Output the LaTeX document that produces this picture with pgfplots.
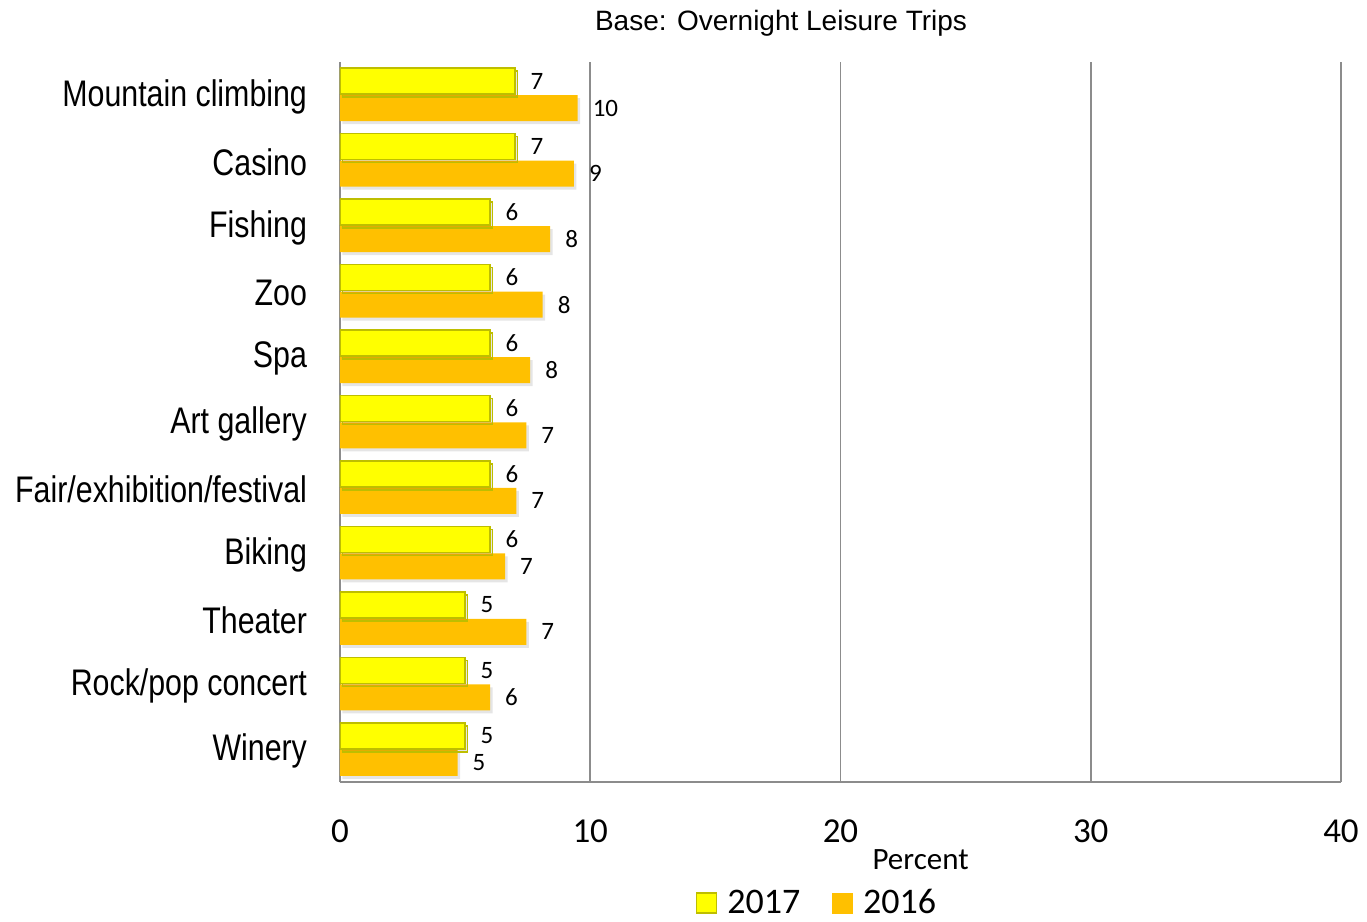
\documentclass[border=0pt]{standalone}
\usepackage{fontspec}
\setmainfont{Liberation Sans}
\newfontfamily\narrow[FakeStretch=0.82]{Liberation Sans}
\newfontfamily\carlito{Carlito}
\usepackage{pgfplots}
\pgfplotsset{compat=1.18}
\definecolor{yel}{HTML}{FFFF00}
\definecolor{yelborder}{HTML}{BEBE00}
\definecolor{org}{HTML}{FFC000}
\definecolor{gridc}{HTML}{8C8C8C}
\begin{document}
\begin{tikzpicture}
\useasboundingbox (-170pt,-70pt) rectangle (513.5pt,391pt);
\begin{axis}[
  at={(0,0)}, anchor=south west,
  scale only axis, width=500.5pt, height=360pt,
  xbar=0.5pt, bar width=13pt,
  xmin=0, xmax=40, ymin=-0.5, ymax=10.5,
  xtick={0,10,20,30,40}, ytick={0,...,10},
  yticklabels={Winery, Rock/pop concert, Theater, Biking, Fair/exhibition/festival, Art gallery, Spa, Zoo, Fishing, Casino, Mountain climbing},
  major tick length=0,
  axis x line*=bottom, axis y line*=left,
  axis line style={draw=gridc, line width=0.8pt, -},
  xmajorgrids, grid style={draw=gridc, line width=0.8pt},
  /pgf/number format/assume math mode=true,
  xticklabel style={font=\carlito\fontsize{17.5}{20}\selectfont, yshift=-15.5pt},
  yticklabel style={font=\narrow\fontsize{18.5}{22}\selectfont, xshift=-13pt, yshift=-1pt},
  xlabel={Percent},
  xlabel style={at={(rel axis cs:0.58,-0.108)}, anchor=center, font=\carlito\fontsize{15.5}{18}\selectfont},
  title={Base: Overnight Leisure Trips},
  title style={at={(rel axis cs:0.4406,1.037)}, anchor=center, font=\fontsize{14}{16}\selectfont},
  nodes near coords={\pgfmathprintnumber[fixed,precision=0]{\pgfplotspointmeta}},
  every node near coord/.append style={font=\carlito\fontsize{12.5}{14}\selectfont, anchor=west, xshift=4pt, text=black},
  legend style={at={(rel axis cs:0.4775,-0.168)}, anchor=center, draw=none, legend columns=2,
    font=\carlito\fontsize{18}{20}\selectfont, inner sep=1pt,
    /tikz/every odd column/.append style={column sep=3pt},
    /tikz/every even column/.append style={column sep=14pt}},
  legend image code/.code={\draw[#1] (0pt,-5pt) rectangle (10pt,5pt);},
]
\addlegendimage{fill=yel, draw=yelborder, line width=0.8pt}
\addlegendimage{fill=org, draw=org, line width=0.4pt}
\addplot[fill=org, draw=none, preaction={fill=black, fill opacity=0.1, transform canvas={xshift=1.2pt, yshift=-1.5pt}}] coordinates {
  (4.7,0) (6.0,1) (7.45,2) (6.6,3) (7.05,4) (7.45,5) (7.6,6) (8.1,7) (8.4,8) (9.35,9) (9.5,10)};
\addplot[fill=yel, draw=yelborder, line width=0.8pt, preaction={fill=black, fill opacity=0.1, transform canvas={xshift=1.2pt, yshift=-1.5pt}}] coordinates {
  (5,0) (5,1) (5,2) (6,3) (6,4) (6,5) (6,6) (6,7) (6,8) (7,9) (7,10)};
\legend{2017,2016}
\end{axis}
\end{tikzpicture}
\end{document}
